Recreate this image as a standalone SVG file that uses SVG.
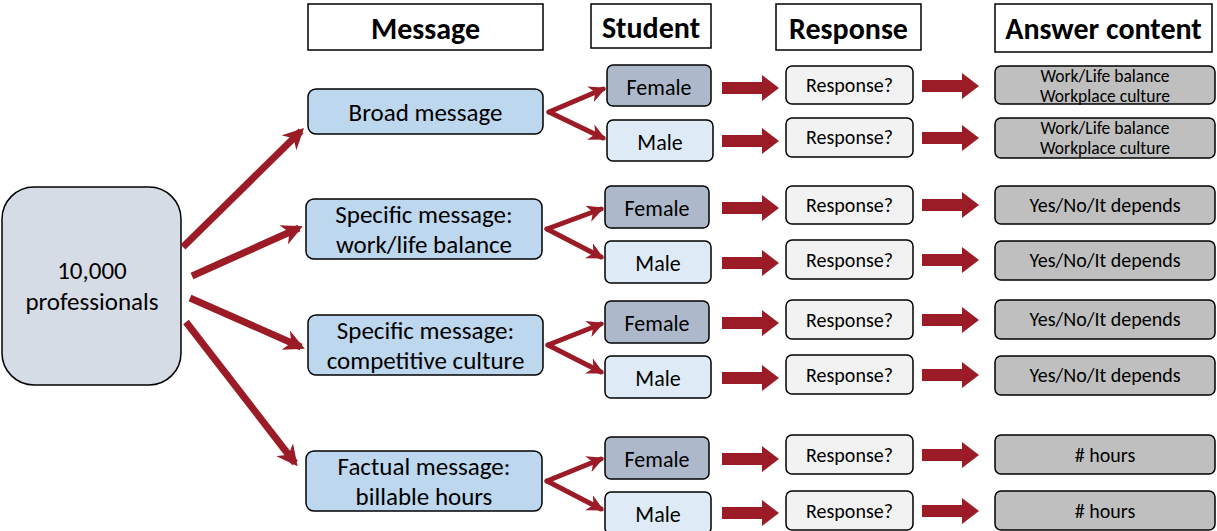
<svg xmlns="http://www.w3.org/2000/svg" xmlns:xlink="http://www.w3.org/1999/xlink" width="1217" height="531" viewBox="0 0 1217 531">
<style>
text{font-family:Carlito,Lato,"Liberation Sans",sans-serif;fill:#000;text-anchor:middle;dominant-baseline:central}
.hdr rect{fill:#fff;stroke:#000;stroke-width:1.5}
.hdr text{font-weight:bold;font-size:30px}
.pop rect{fill:#d6dce5;stroke:#000;stroke-width:1.5}
.msg rect{fill:#bdd7ee;stroke:#000;stroke-width:1.5}
.fem rect{fill:#adb9ca;stroke:#000;stroke-width:1.5}
.mal rect{fill:#deebf7;stroke:#000;stroke-width:1.5}
.rsp rect{fill:#f2f2f2;stroke:#000;stroke-width:1.5}
.ans rect{fill:#bfbfbf;stroke:#000;stroke-width:1.5}
.big{font-size:25px}
.mid{font-size:25px}
.st{font-size:22px}
.sm{font-size:20px}
.xs{font-size:17.5px}
.ln{stroke:#9b1c26;stroke-width:7;fill:none}
.fk{stroke:#9b1c26;stroke-width:5;fill:none;stroke-linecap:round}
.blk{fill:#9b1c26}
</style>
<defs>
<marker id="ah" viewBox="0 0 10 10" refX="8" refY="5" markerWidth="3" markerHeight="3" orient="auto" markerUnits="strokeWidth">
<path d="M0,0 L10,5 L0,10 L3,5 Z" fill="#9b1c26"/>
</marker>
<marker id="ah2" viewBox="0 0 10 10" refX="8" refY="5" markerWidth="3.4" markerHeight="3.4" orient="auto" markerUnits="strokeWidth">
<path d="M0,0 L10,5 L0,10 L3,5 Z" fill="#9b1c26"/>
</marker>
<path id="blk" d="M0,-6 H40 V-13 L57,0 L40,13 V6 H0 Z"/>
</defs>

<g id="headers" class="hdr">
<g id="h-message"><rect x="308" y="4" width="235" height="46"/><text x="425.5" y="28">Message</text></g>
<g id="h-student"><rect x="591" y="4" width="120" height="44"/><text x="651" y="27">Student</text></g>
<g id="h-response"><rect x="776" y="4" width="145" height="46"/><text x="848.5" y="28">Response</text></g>
<g id="h-answer"><rect x="995" y="4" width="217" height="48"/><text x="1103.5" y="28">Answer content</text></g>
</g>

<g id="n-pop" class="pop"><rect x="2" y="187" width="179" height="198" rx="32"/>
<text class="big" x="92" y="270">10,000</text><text class="big" x="92" y="301">professionals</text></g>

<g id="n-msg1" class="msg"><rect x="308" y="89" width="235" height="45" rx="8"/><text class="mid" x="425.5" y="112">Broad message</text></g>
<g id="n-msg2" class="msg"><rect x="306" y="199" width="236" height="60" rx="8"/><text class="mid" x="424" y="214">Specific message:</text><text class="mid" x="424" y="244">work/life balance</text></g>
<g id="n-msg3" class="msg"><rect x="308" y="315" width="235" height="60" rx="8"/><text class="mid" x="425.5" y="330">Specific message:</text><text class="mid" x="425.5" y="360">competitive culture</text></g>
<g id="n-msg4" class="msg"><rect x="306" y="451" width="236" height="60" rx="8"/><text class="mid" x="424" y="466">Factual message:</text><text class="mid" x="424" y="496">billable hours</text></g>

<g id="n-f1" class="fem"><rect x="607" y="65" width="104" height="41" rx="6"/><text class="st" x="659" y="87">Female</text></g>
<g id="n-m1" class="mal"><rect x="607" y="120" width="106" height="41" rx="6"/><text class="st" x="660" y="142">Male</text></g>
<g id="n-f2" class="fem"><rect x="605" y="186" width="104" height="42" rx="6"/><text class="st" x="657" y="208">Female</text></g>
<g id="n-m2" class="mal"><rect x="605" y="241" width="106" height="42" rx="6"/><text class="st" x="658" y="263">Male</text></g>
<g id="n-f3" class="fem"><rect x="605" y="301" width="104" height="42" rx="6"/><text class="st" x="657" y="323">Female</text></g>
<g id="n-m3" class="mal"><rect x="605" y="356" width="106" height="42" rx="6"/><text class="st" x="658" y="378">Male</text></g>
<g id="n-f4" class="fem"><rect x="605" y="437" width="104" height="42" rx="6"/><text class="st" x="657" y="459">Female</text></g>
<g id="n-m4" class="mal"><rect x="605" y="492" width="106" height="42" rx="6"/><text class="st" x="658" y="514">Male</text></g>

<g id="n-r1" class="rsp"><rect x="786" y="66" width="127" height="38" rx="6"/><text class="sm" x="849.5" y="85">Response?</text></g>
<g id="n-r2" class="rsp"><rect x="786" y="118" width="127" height="39" rx="6"/><text class="sm" x="849.5" y="137">Response?</text></g>
<g id="n-r3" class="rsp"><rect x="786" y="186" width="127" height="38" rx="6"/><text class="sm" x="849.5" y="205">Response?</text></g>
<g id="n-r4" class="rsp"><rect x="786" y="240" width="127" height="39" rx="6"/><text class="sm" x="849.5" y="260">Response?</text></g>
<g id="n-r5" class="rsp"><rect x="786" y="300" width="127" height="39" rx="6"/><text class="sm" x="849.5" y="320">Response?</text></g>
<g id="n-r6" class="rsp"><rect x="786" y="355" width="127" height="39" rx="6"/><text class="sm" x="849.5" y="375">Response?</text></g>
<g id="n-r7" class="rsp"><rect x="786" y="435" width="127" height="39" rx="6"/><text class="sm" x="849.5" y="455">Response?</text></g>
<g id="n-r8" class="rsp"><rect x="786" y="491" width="127" height="39" rx="6"/><text class="sm" x="849.5" y="511">Response?</text></g>

<g id="n-a1" class="ans"><rect x="995" y="66" width="220" height="38" rx="6"/><text class="xs" x="1105" y="76">Work/Life balance</text><text class="xs" x="1105" y="96">Workplace culture</text></g>
<g id="n-a2" class="ans"><rect x="995" y="118" width="220" height="40" rx="6"/><text class="xs" x="1105" y="128">Work/Life balance</text><text class="xs" x="1105" y="148">Workplace culture</text></g>
<g id="n-a3" class="ans"><rect x="995" y="186" width="220" height="38" rx="6"/><text class="sm" x="1105" y="205">Yes/No/It depends</text></g>
<g id="n-a4" class="ans"><rect x="995" y="241" width="220" height="39" rx="6"/><text class="sm" x="1105" y="260">Yes/No/It depends</text></g>
<g id="n-a5" class="ans"><rect x="995" y="300" width="220" height="39" rx="6"/><text class="sm" x="1105" y="319">Yes/No/It depends</text></g>
<g id="n-a6" class="ans"><rect x="995" y="356" width="220" height="39" rx="6"/><text class="sm" x="1105" y="375">Yes/No/It depends</text></g>
<g id="n-a7" class="ans"><rect x="995" y="435" width="220" height="39" rx="6"/><text class="sm" x="1105" y="455"># hours</text></g>
<g id="n-a8" class="ans"><rect x="995" y="491" width="220" height="39" rx="6"/><text class="sm" x="1105" y="511"># hours</text></g>

<g id="connectors">
<line class="ln" x1="183" y1="247" x2="301" y2="131" marker-end="url(#ah)"/>
<line class="ln" x1="192" y1="276" x2="299" y2="228" marker-end="url(#ah)"/>
<line class="ln" x1="190" y1="298" x2="301" y2="347" marker-end="url(#ah)"/>
<line class="ln" x1="186" y1="322" x2="295" y2="463" marker-end="url(#ah)"/>

<line class="fk" x1="549" y1="112" x2="603" y2="89" marker-end="url(#ah2)"/>
<line class="fk" x1="549" y1="112" x2="603" y2="138" marker-end="url(#ah2)"/>
<line class="fk" x1="547" y1="229" x2="601" y2="209" marker-end="url(#ah2)"/>
<line class="fk" x1="547" y1="229" x2="601" y2="257" marker-end="url(#ah2)"/>
<line class="fk" x1="548" y1="345" x2="601" y2="324" marker-end="url(#ah2)"/>
<line class="fk" x1="548" y1="345" x2="601" y2="372" marker-end="url(#ah2)"/>
<line class="fk" x1="547" y1="481" x2="601" y2="459" marker-end="url(#ah2)"/>
<line class="fk" x1="547" y1="481" x2="601" y2="509" marker-end="url(#ah2)"/>

<g class="blk">
<use xlink:href="#blk" x="722" y="88"/>
<use xlink:href="#blk" x="722" y="141"/>
<use xlink:href="#blk" x="722" y="208"/>
<use xlink:href="#blk" x="722" y="263"/>
<use xlink:href="#blk" x="722" y="323"/>
<use xlink:href="#blk" x="722" y="378"/>
<use xlink:href="#blk" x="722" y="459"/>
<use xlink:href="#blk" x="722" y="513"/>
<use xlink:href="#blk" x="922" y="86"/>
<use xlink:href="#blk" x="922" y="138"/>
<use xlink:href="#blk" x="922" y="205"/>
<use xlink:href="#blk" x="922" y="260"/>
<use xlink:href="#blk" x="922" y="320"/>
<use xlink:href="#blk" x="922" y="375"/>
<use xlink:href="#blk" x="922" y="455"/>
<use xlink:href="#blk" x="922" y="511"/>
</g>
</g>
</svg>
